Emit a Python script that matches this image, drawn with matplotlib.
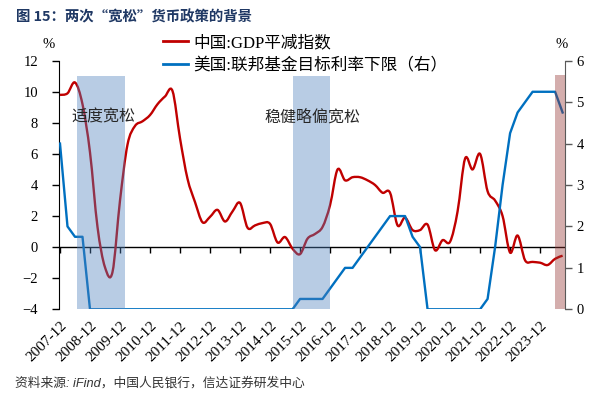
import matplotlib
matplotlib.use('Agg')
import matplotlib.pyplot as plt
import numpy as np
import pandas as pd
from matplotlib.lines import Line2D
from matplotlib.path import Path
from matplotlib.patches import PathPatch

# ---------------- data ----------------
quarters = pd.period_range('2007Q4', '2024Q3', freq='Q')

gdp_deflator = [9.8, 9.9, 10.6, 9.2, 6.1, 1.3, -1.3, -1.6,
                3.0, 6.6, 7.8, 8.1, 8.5, 9.2, 9.7, 10.05,
                7.0, 4.4, 2.9, 1.6, 1.95, 2.4, 1.65, 2.3,
                2.85, 1.25, 1.4, 1.55, 1.5, 0.3, 0.65, -0.1,
                -0.45, 0.55, 0.85, 1.3, 2.7, 5.0, 4.3, 4.5,
                4.5, 4.3, 4.0, 3.5, 3.5, 1.4, 1.9, 1.1,
                1.1, 1.45, -0.2, 0.45, 0.35, 2.3, 5.7, 5.0,
                6.0, 3.6, 3.0, 2.0, -0.35, 0.75, -0.85, -0.95,
                -1.0, -1.15, -0.75, -0.55]

fed_lower = [4.0, 2.0, 1.75, 1.75] + [0.0] * 28 + \
            [0.25, 0.25, 0.25, 0.25, 0.5, 0.75, 1.0, 1.0,
             1.25, 1.5, 1.75, 2.0, 2.25, 2.25, 2.25, 1.75, 1.5] + [0.0] * 8 + \
            [0.25, 1.5, 3.0, 4.25, 4.75, 5.0, 5.25, 5.25, 5.25, 5.25, 4.75]

tick_years = list(range(2007, 2024))
tick_labels = [f'{y}-12' for y in tick_years]

easing_periods = [('2008-07', '2010-02'), ('2015-09', '2016-12')]
easing_labels = ['适度宽松', '稳健略偏宽松']
highlight_start = '2024-06'

series_names = ['中国:GDP平减指数', '美国:联邦基金目标利率下限（右）']
title = '图 15：两次“宽松”货币政策的背景'
source = '资料来源: iFind，中国人民银行，信达证券研发中心'

# ---------------- helpers ----------------
def q_to_t(q):
    return (q.year - 2007) + (q.quarter - 4) / 4.0

def m_to_t(s):
    y, m = map(int, s.split('-'))
    return (y - 2007) + (m - 12) / 12.0

def smooth_path(x, y):
    """Excel-style smoothed line: cubic Bezier segments through the data points."""
    x = np.asarray(x, float)
    y = np.asarray(y, float)
    n = len(x)
    verts = [(x[0], y[0])]
    codes = [Path.MOVETO]
    for i in range(n - 1):
        xp, yp = (x[i - 1], y[i - 1]) if i > 0 else (x[i], y[i])
        xn, yn = (x[i + 2], y[i + 2]) if i + 2 < n else (x[i + 1], y[i + 1])
        c1 = (x[i] + (x[i + 1] - xp) / 6.0, y[i] + (y[i + 1] - yp) / 6.0)
        c2 = (x[i + 1] - (xn - x[i]) / 6.0, y[i + 1] - (yn - y[i]) / 6.0)
        verts += [c1, c2, (x[i + 1], y[i + 1])]
        codes += [Path.CURVE4] * 3
    return Path(verts, codes)

t = [q_to_t(q) for q in quarters]
assert len(t) == len(gdp_deflator) == len(fed_lower)

plt.rcParams['font.family'] = ['Liberation Serif', 'Noto Sans CJK SC']

W, H = 592, 395
fig = plt.figure(figsize=(W / 100, H / 100), dpi=100)
L, R, T, B = 58.7, 565.3, 60.7, 309.3
ax = fig.add_axes([L / W, 1 - B / H, (R - L) / W, (B - T) / H])
ax2 = ax.twinx()

XMIN, XMAX = -0.043, 16.84
YL = (-4, 12)
YR = (0, 6)

red = '#C00000'
blue = '#0070C0'

ax.add_patch(PathPatch(smooth_path(t, gdp_deflator), fill=False, edgecolor=red,
                       lw=1.7, joinstyle='round', capstyle='butt', zorder=3))
ax2.plot(t, fed_lower, color=blue, lw=1.7, solid_joinstyle='round', zorder=3)

ax.set_xlim(XMIN, XMAX)
ax.set_ylim(*YL)
ax2.set_ylim(*YR)

ax.axhline(0, color='black', lw=1.0, zorder=2)

# x axis: ticks at the zero line, labels at bottom
tick_pos = [y - 2007 for y in tick_years]
ax.set_xticks(tick_pos)
ax.set_xticklabels(tick_labels, rotation=45, ha='right', va='top',
                   rotation_mode='anchor', fontsize=11)
ax.tick_params(axis='x', length=0, pad=7)
sec = ax.secondary_xaxis((0 - YL[0]) / (YL[1] - YL[0]))
sec.set_xticks(tick_pos)
sec.tick_params(axis='x', direction='out', length=4, width=1.0, labelbottom=False, color='black')
sec.spines['bottom'].set_visible(False)

for s in ['top', 'bottom', 'right']:
    ax.spines[s].set_visible(False)
for s in ['top', 'bottom', 'left']:
    ax2.spines[s].set_visible(False)
ax.spines['left'].set_color('black')
ax2.spines['right'].set_color('#595959')

ax.set_yticks(range(-4, 13, 2))
ax.tick_params(axis='y', direction='out', length=5, width=1.0, labelsize=10.5, pad=10)
ax2.set_yticks(range(0, 7))
ax2.tick_params(axis='y', direction='out', length=5, width=1.0, labelsize=10.5, pad=3, color='#595959')

# shaded periods (drawn over lines, semi-transparent)
for (s, e) in easing_periods:
    ax2.axvspan(m_to_t(s), m_to_t(e), ymin=0, ymax=(11.0 - YL[0]) / (YL[1] - YL[0]),
                color='#4F81BD', alpha=0.4, lw=0, zorder=4)
ax2.axvspan(m_to_t(highlight_start), XMAX, ymin=0, ymax=(11.1 - YL[0]) / (YL[1] - YL[0]),
            color='#943634', alpha=0.4, lw=0, zorder=4)

# annotations
ann_pos = [(1.43, 8.4), (8.42, 8.4)]
for (x, y), lab in zip(ann_pos, easing_labels):
    ax2.text(x, y, lab, transform=ax.transData, ha='center', va='center',
             fontsize=11.5, color='#262626', family=['Noto Sans CJK SC'], zorder=6)

# legend
handles = [Line2D([], [], color=red, lw=2), Line2D([], [], color=blue, lw=2)]
fig.legend(handles, series_names, loc='upper left', bbox_to_anchor=(148 / W, 1 - 20 / H),
           frameon=False, fontsize=12, handlelength=1.5, handletextpad=0.3,
           labelspacing=0.42, borderpad=0.4)

# titles / units / source
fig.text(16 / W, 1 - 17 / H, title, fontsize=10.4, fontweight='bold', color='#1F3864',
         family=['Noto Sans CJK SC'], va='center', ha='left')
fig.text(49 / W, 1 - 44 / H, '%', ha='center', va='center', fontsize=10.5)
fig.text(562 / W, 1 - 44 / H, '%', ha='center', va='center', fontsize=10.5)
fig.text(15 / W, 1 - 383 / H, source, fontsize=9.2, style='italic', color='#333333',
         family=['Liberation Sans', 'Noto Sans CJK SC'], va='center', ha='left')

fig.savefig('out.png', dpi=100)
